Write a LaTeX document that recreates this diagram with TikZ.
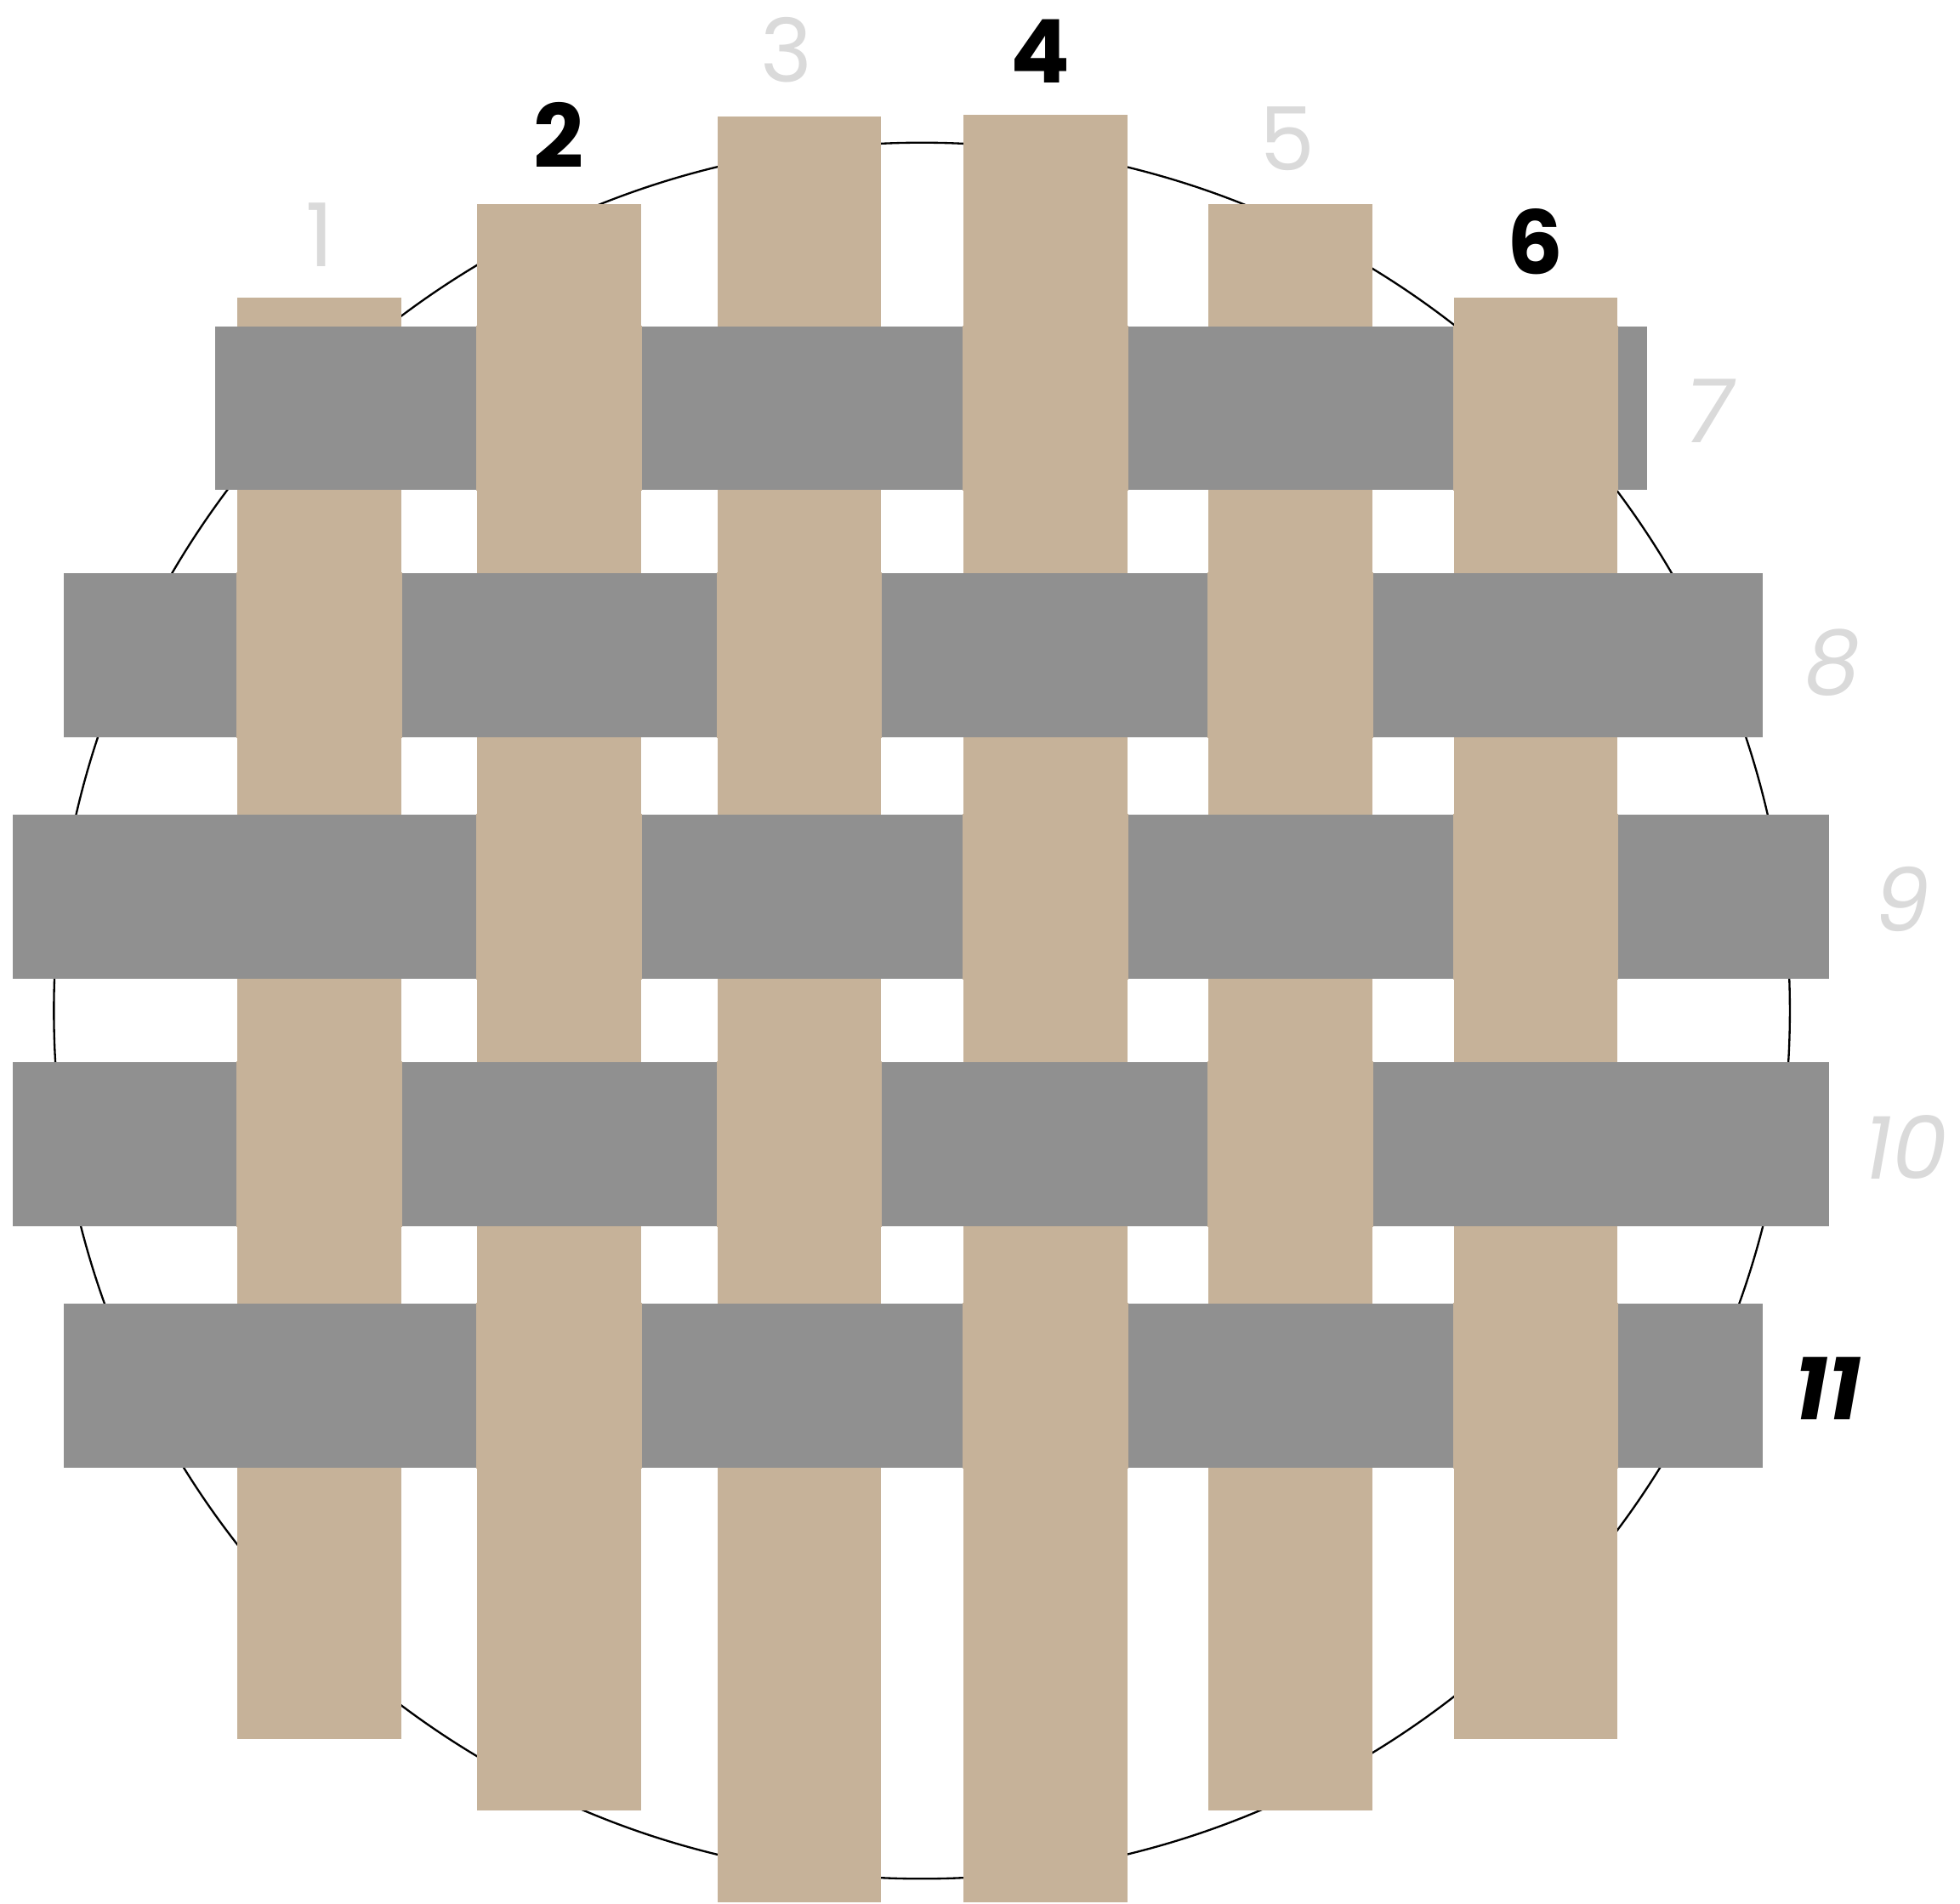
\documentclass[tikz,border=0pt]{standalone}
\usepackage{fontspec}
\setmainfont{Poppins}
\newfontfamily\lightnum{Poppins}
\newfontfamily\lightslant{Poppins Italic}
\newfontfamily\boldnum{Poppins Bold}
\newfontfamily\boldslant{Poppins Bold Italic}
\usepackage{tikz}
\usetikzlibrary{positioning}
\definecolor{warptan}{RGB}{198,178,153}
\definecolor{weftgrey}{RGB}{144,144,144}
\definecolor{dimlabel}{RGB}{218,218,218}

\begin{document}
\begin{tikzpicture}[x=0.01cm, y=-0.01cm, font=\fontsize{20}{24}\selectfont, warp/.style={fill=warptan, inner sep=0, minimum width=1.31cm}, weft/.style={fill=weftgrey, inner sep=0, minimum height=1.31cm}, dimnum/.style={inner sep=0, text=dimlabel, font=\fontsize{20}{24}\selectfont\lightnum}, dimslant/.style={inner sep=0, text=dimlabel, font=\fontsize{20}{24}\selectfont\lightslant}, marknum/.style={inner sep=0, font=\fontsize{20}{24}\selectfont\boldnum}, markslant/.style={inner sep=0, font=\fontsize{20}{24}\selectfont\boldslant}]
\useasboundingbox (0,0) rectangle (1568,1523);
\node[draw, line width=0.45pt, circle, inner sep=0, minimum size=13.88cm] (rim) at (737.5,808.5) {};
% vertical strips
\foreach \i/\x/\t/\b in {1/255.5/238/1391, 2/447.5/163/1448, 3/639.5/93/1522, 4/836.5/92/1522, 5/1032.5/163/1448, 6/1228.5/238/1391}
  \node[warp, minimum height={(\b-\t)*0.01cm}] (v\i) at (\x,{(\t+\b)/2}) {};
% horizontal strips
\foreach \r/\y/\l/\e in {7/326.5/172/1318, 8/524/51/1410, 9/717.5/10/1463, 10/915.5/10/1463, 11/1108.5/51/1410}
  \node[weft, minimum width={(\e-\l)*0.01cm}] (h\r) at ({(\l+\e)/2},\y) {};
% where the tan strip lies on top
\foreach \r/\cols in {7/{2,4,6}, 8/{1,3,5}, 9/{2,4,6}, 10/{1,3,5}, 11/{2,4,6}}
  \foreach \j in \cols
    \fill[warptan] (v\j.west |- h\r.north) rectangle (v\j.east |- h\r.south);
% numbers
\node[dimnum] (n1) at (256,188) {1};
\node[marknum] (n2) at (447,108) {2};
\node[dimnum] (n3) at (629,40) {3};
\node[marknum] (n4) at (832,41) {4};
\node[dimnum] (n5) at (1030,111) {5};
\node[marknum] (n6) at (1228,193) {6};
\node[dimslant] (n7) at (1367,329) {7};
\node[dimslant] (n8) at (1466,530) {8};
\node[dimslant] (n9) at (1522,719) {9};
\node[dimslant] (n10) at (1525,918) {10};
\node[markslant] (n11) at (1462,1111) {11};
\end{tikzpicture}
\end{document}
